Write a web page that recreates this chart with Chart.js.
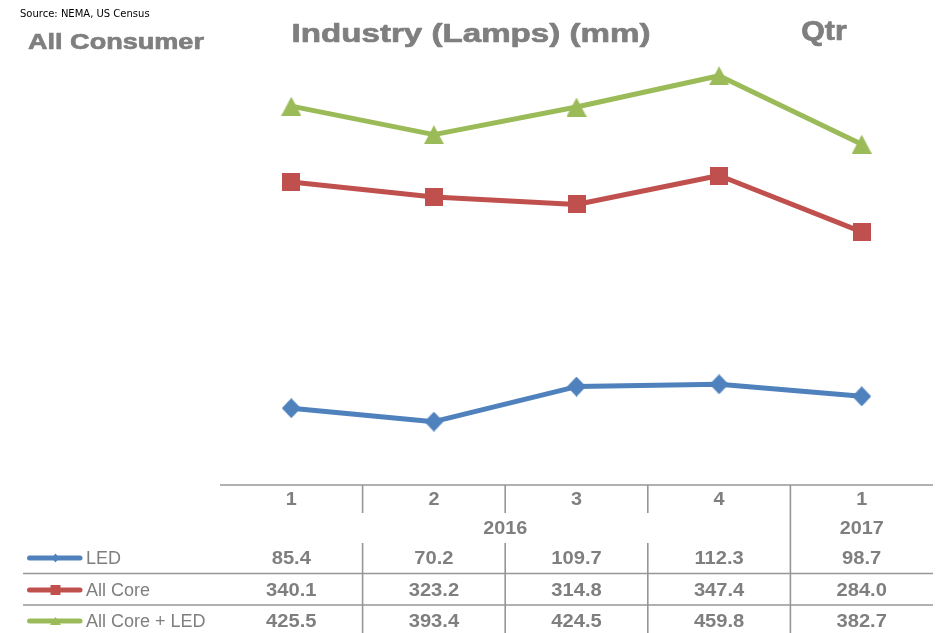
<!DOCTYPE html>
<html>
<head>
<meta charset="utf-8">
<title>All Consumer – Industry (Lamps) (mm)</title>
<script src="https://cdn.jsdelivr.net/npm/chart.js@4/dist/chart.umd.min.js"></script>
<style>
  html, body { margin: 0; padding: 0; background: #ffffff; }
  canvas { display: block; }
</style>
</head>
<body>
<canvas id="chart" width="941" height="633"></canvas>
<script>
// Quarterly lamp shipments, millions of units
const quarters = ['1', '2', '3', '4', '1'];
const years = ['2016', '2016', '2016', '2016', '2017'];
const seriesNames = ['LED', 'All Core', 'All Core + LED'];
const ledValues = [85.4, 70.2, 109.7, 112.3, 98.7];
const coreValues = [340.1, 323.2, 314.8, 347.4, 284.0];
const totalValues = [425.5, 393.4, 424.5, 459.8, 382.7];

const sourceText = 'Source: NEMA, US Census';
const leftTitle = 'All Consumer';
const mainTitle = 'Industry (Lamps) (mm)';
const rightTitle = 'Qtr';

const COLORS = ['#4F81BD', '#C0504D', '#9BBB59'];
const SHAPES = ['diamond', 'square', 'triangle'];
const TEXT_GRAY = '#7f7f7f';
const RULE_GRAY = '#969696';
const SANS = '"Liberation Sans", Arial, sans-serif';

// Fill a marker shape inside a w x h box whose top-left corner is (x, y)
function shapePath(ctx, shape, x, y, w, h) {
  ctx.beginPath();
  if (shape === 'diamond') {
    ctx.moveTo(x + w / 2, y); ctx.lineTo(x + w, y + h / 2);
    ctx.lineTo(x + w / 2, y + h); ctx.lineTo(x, y + h / 2);
  } else if (shape === 'square') {
    ctx.rect(x, y, w, h);
  } else {
    ctx.moveTo(x + w / 2, y); ctx.lineTo(x + w, y + h); ctx.lineTo(x, y + h);
  }
  ctx.closePath();
}

// Point images, centred on the data value by their bounding box
function markerImage(shape, w, h, color) {
  const c = document.createElement('canvas');
  c.width = w; c.height = h;
  const g = c.getContext('2d');
  g.fillStyle = color;
  shapePath(g, shape, 0, 0, w, h);
  g.fill();
  return c;
}
const POINT_IMAGES = [
  markerImage('diamond', 19, 20, COLORS[0]),
  markerImage('square', 18, 18, COLORS[1]),
  markerImage('triangle', 20, 19, COLORS[2])
];
const KEY_SIZES = [[7, 9], [10, 10], [11, 8]];

function text(ctx, str, x, y, font, color, align, sx, heavy) {
  ctx.save();
  ctx.translate(x, y);
  ctx.scale(sx || 1, 1);
  ctx.font = font;
  ctx.fillStyle = color;
  ctx.textAlign = align || 'left';
  ctx.textBaseline = 'alphabetic';
  ctx.fillText(str, 0, 0);
  if (heavy) {
    ctx.strokeStyle = color;
    ctx.lineWidth = heavy;
    ctx.lineJoin = 'round';
    ctx.strokeText(str, 0, 0);
  }
  ctx.restore();
}

// Titles above the plot and the data table beneath it
const tablePlugin = {
  id: 'dataTable',
  afterDraw(chart) {
    const ctx = chart.ctx;
    const xs = chart.scales.x;
    const area = chart.chartArea;
    const n = quarters.length;
    const centers = quarters.map((_, i) => xs.getPixelForValue(i));
    const bounds = [area.left];
    for (let i = 0; i < n - 1; i++) bounds.push((centers[i] + centers[i + 1]) / 2);
    bounds.push(area.right);

    // headings
    text(ctx, sourceText, 20, 17, '10px "DejaVu Sans", sans-serif', '#000000', 'left', 1);
    text(ctx, leftTitle, 28, 49, 'bold 22px ' + SANS, TEXT_GRAY, 'left', 1.23, 0.7);
    text(ctx, mainTitle, 471, 42, 'bold 26.5px ' + SANS, TEXT_GRAY, 'center', 1.25, 0.7);
    text(ctx, rightTitle, 824, 40, 'bold 27px ' + SANS, TEXT_GRAY, 'center', 1.12, 0.7);

    const top = area.bottom + 1;
    const rowQ = top + 28;     // bottom of quarter row
    const rowY = top + 58;     // bottom of year row
    const lineY1 = 573.5, lineY2 = 605;
    const bottom = chart.height;

    ctx.save();
    ctx.strokeStyle = RULE_GRAY;
    ctx.lineWidth = 1.6;
    ctx.beginPath();
    ctx.moveTo(area.left, top); ctx.lineTo(area.right, top);
    ctx.moveTo(23, lineY1); ctx.lineTo(area.right, lineY1);
    ctx.moveTo(23, lineY2); ctx.lineTo(area.right, lineY2);
    for (let i = 1; i < n; i++) {
      const x = bounds[i];
      const yearBreak = years[i] !== years[i - 1];
      ctx.moveTo(x, top);
      if (yearBreak) {
        ctx.lineTo(x, bottom);
      } else {
        ctx.lineTo(x, rowQ);
        ctx.moveTo(x, rowY);
        ctx.lineTo(x, bottom);
      }
    }
    ctx.stroke();
    ctx.restore();

    const numFont = 'bold 18px ' + SANS;
    // quarter row
    centers.forEach((cx, i) => text(ctx, quarters[i], cx, top + 20, numFont, TEXT_GRAY, 'center', 1.1));
    // year row, grouped by consecutive years
    let start = 0;
    for (let i = 1; i <= n; i++) {
      if (i === n || years[i] !== years[start]) {
        const mid = (bounds[start] + bounds[i]) / 2;
        text(ctx, years[start], mid, top + 49, numFont, TEXT_GRAY, 'center', 1.1);
        start = i;
      }
    }
    // data rows with legend keys
    const rowBase = [564, 596, 627];
    const rowMid = [558, 590, 621];
    chart.data.datasets.forEach((ds, d) => {
      ctx.save();
      ctx.strokeStyle = COLORS[d];
      ctx.lineWidth = 5;
      ctx.lineCap = 'round';
      ctx.beginPath();
      ctx.moveTo(29.5, rowMid[d]); ctx.lineTo(80, rowMid[d]);
      ctx.stroke();
      const [kw, kh] = KEY_SIZES[d];
      ctx.fillStyle = COLORS[d];
      shapePath(ctx, SHAPES[d], 55.5 - kw / 2, rowMid[d] - kh / 2, kw, kh);
      ctx.fill();
      ctx.restore();
      text(ctx, seriesNames[d], 86, rowBase[d], '18px ' + SANS, TEXT_GRAY, 'left', 1);
      ds.data.forEach((v, i) => {
        text(ctx, v.toFixed(1), centers[i], rowBase[d], numFont, TEXT_GRAY, 'center', 1.12);
      });
    });
  }
};

function series(idx, values) {
  return {
    label: seriesNames[idx],
    data: values,
    borderColor: COLORS[idx],
    backgroundColor: COLORS[idx],
    borderWidth: 5,
    borderJoinStyle: 'round',
    tension: 0,
    fill: false,
    pointStyle: POINT_IMAGES[idx],
    pointRadius: 10
  };
}

new Chart(document.getElementById('chart'), {
  type: 'line',
  data: {
    labels: quarters,
    datasets: [
      series(0, ledValues),
      series(1, coreValues),
      series(2, totalValues)
    ]
  },
  options: {
    responsive: false,
    animation: false,
    layout: { autoPadding: false, padding: { left: 220, right: 8, top: 40, bottom: 149 } },
    plugins: {
      legend: { display: false },
      tooltip: { enabled: false },
      title: { display: false }
    },
    scales: {
      x: { display: false, offset: true },
      y: { display: false, min: 0, max: 500 }
    }
  },
  plugins: [tablePlugin]
});
</script>
</body>
</html>
